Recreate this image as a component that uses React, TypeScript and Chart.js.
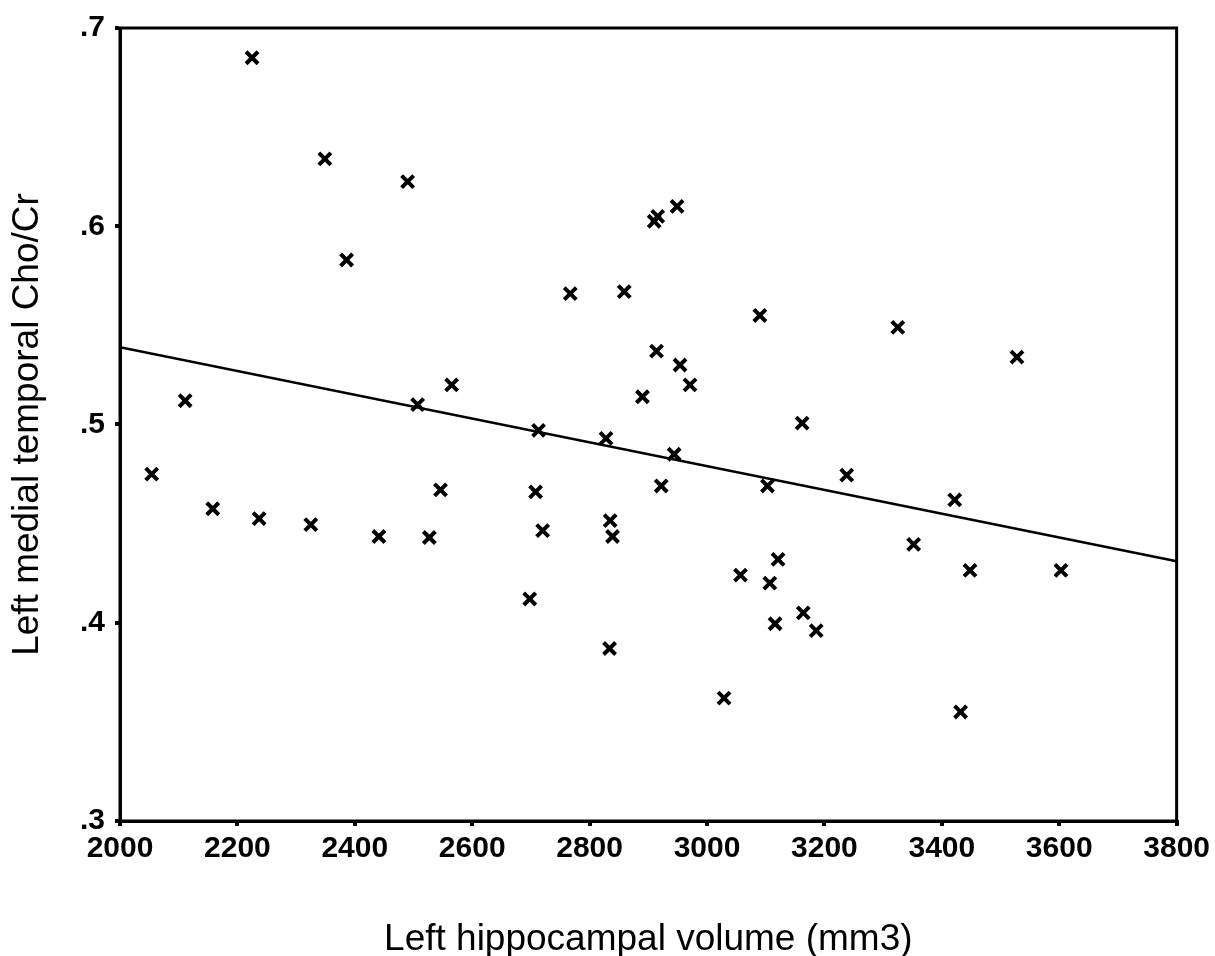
import React, { useEffect, useRef } from "react";
import { Chart, registerables } from "chart.js";

Chart.register(...registerables);

// Left hippocampal volume (mm3)
const volumes: number[] = [
  2225, 2349, 2490, 2386, 2910, 2916, 2949, 2767, 2859, 3090,
  3325, 2111, 2054, 2158, 2237, 2325, 2441, 2914, 2954, 2971,
  2890, 3162, 2565, 2507, 2713, 2828, 2944, 3103, 2546, 2708,
  2922, 2527, 2720, 2835, 2839, 3121, 3057, 3107, 2698, 3164,
  3116, 3528, 3238, 3422, 3352, 3448, 3603, 3186, 2834, 3029,
  3432,
];
// Left medial temporal Cho/Cr
const ratios: number[] = [
  0.685, 0.634, 0.6225, 0.583, 0.6025, 0.605, 0.610, 0.566, 0.567, 0.555,
  0.549, 0.512, 0.475, 0.4575, 0.4525, 0.4495, 0.4435, 0.537, 0.530, 0.520,
  0.514, 0.5007, 0.520, 0.510, 0.497, 0.493, 0.485, 0.469, 0.467, 0.466,
  0.469, 0.443, 0.4465, 0.4515, 0.4435, 0.432, 0.424, 0.420, 0.412, 0.405,
  0.3995, 0.534, 0.4745, 0.462, 0.4395, 0.4264, 0.4264, 0.396, 0.387, 0.362,
  0.355,
];
// Regression line end points
const fitX: number[] = [2000, 3800];
const fitY: number[] = [0.539, 0.431];

const xTicks: number[] = [2000, 2200, 2400, 2600, 2800, 3000, 3200, 3400, 3600, 3800];
const yTicks: number[] = [0.3, 0.4, 0.5, 0.6, 0.7];

const FONT = "'Liberation Sans', Arial, sans-serif";

const boxPlugin = {
  id: "boxFrame",
  afterDatasetsDraw(chart: any) {
    const { ctx, chartArea } = chart;
    ctx.save();
    ctx.strokeStyle = "#000";
    ctx.lineWidth = 3;
    ctx.strokeRect(chartArea.left, chartArea.top, chartArea.right - chartArea.left, chartArea.bottom - chartArea.top);
    ctx.restore();
  },
};

export default function App() {
  const ref = useRef<HTMLCanvasElement | null>(null);
  useEffect(() => {
    if (!ref.current) return;
    const chart = new Chart(ref.current, {
      type: "scatter",
      data: {
        datasets: [
          {
            label: "data",
            data: volumes.map((v, i) => ({ x: v, y: ratios[i] })),
            pointStyle: "crossRot",
            pointRadius: 8.5,
            pointBorderWidth: 4,
            borderColor: "#000",
            backgroundColor: "#000",
          },
          {
            label: "fit",
            type: "line",
            data: fitX.map((v, i) => ({ x: v, y: fitY[i] })),
            borderColor: "#000",
            borderWidth: 2.5,
            pointRadius: 0,
            showLine: true,
          } as any,
        ],
      },
      options: {
        animation: false,
        responsive: true,
        maintainAspectRatio: false,
        layout: { padding: { top: 23.5, right: 37, left: 0, bottom: 0 } },
        plugins: { legend: { display: false }, tooltip: { enabled: false } },
        scales: {
          x: {
            type: "linear",
            min: 2000,
            max: 3800,
            afterBuildTicks: (s: any) => { s.ticks = xTicks.map((v) => ({ value: v })); },
            afterFit: (s: any) => { s.height = 135; },
            ticks: {
              color: "#000",
              font: { family: FONT, size: 30, weight: "bold" },
              padding: 5,
              maxRotation: 0,
              callback: (v: any) => String(v),
            },
            grid: { display: true, drawOnChartArea: false, drawTicks: true, tickLength: 5, lineWidth: 4, color: "#000" },
            border: { display: true, color: "#000", width: 3 },
            title: {
              display: true,
              text: "Left hippocampal volume (mm3)",
              color: "#000",
              font: { family: FONT, size: 37, lineHeight: 0.9 },
              padding: { top: 0, bottom: 0 },
            },
          },
          y: {
            type: "linear",
            min: 0.3,
            max: 0.7,
            afterBuildTicks: (s: any) => { s.ticks = yTicks.map((v) => ({ value: v })); },
            afterFit: (s: any) => { s.width = 120; },
            ticks: {
              color: "#000",
              font: { family: FONT, size: 30, weight: "bold" },
              padding: 10,
              callback: (v: any) => Number(v).toFixed(1).replace(/^0/, ""),
            },
            grid: { display: true, drawOnChartArea: false, drawTicks: true, tickLength: 5, lineWidth: 4, color: "#000" },
            border: { display: true, color: "#000", width: 3 },
            title: {
              display: true,
              text: "Left medial temporal Cho/Cr",
              color: "#000",
              font: { family: FONT, size: 37 },
              padding: { top: 6, bottom: 0 },
            },
          },
        },
      },
      plugins: [boxPlugin],
    });
    return () => chart.destroy();
  }, []);
  return (
    <div style={{ position: "fixed", left: 0, top: 0, width: 1215, height: 956, background: "#fff" }}>
      <canvas ref={ref} />
    </div>
  );
}
